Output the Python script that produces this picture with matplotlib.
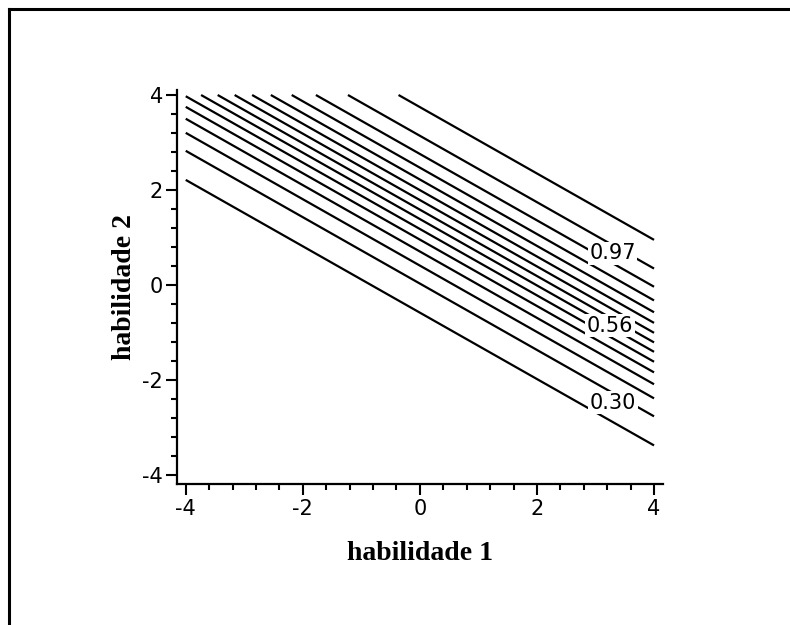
import numpy as np
import matplotlib.pyplot as plt
from matplotlib.lines import Line2D
from matplotlib.ticker import MultipleLocator

# compensatory 2D item: P = c + (1-c) / (1 + exp(-(a1*t1 + a2*t2 + d)))
a1 = 0.87
a2 = 1.245
d = -1.98
c = 0.25

# contour levels (15, evenly spaced like the original)
levels = [0.297, 0.344, 0.390, 0.437, 0.484, 0.531, 0.578, 0.624,
          0.671, 0.718, 0.765, 0.812, 0.858, 0.905, 0.952]

# labels written on the curves
label_text = ["0.97", "0.56", "0.30"]
label_pos = [(3.29, 0.67), (3.25, -0.86), (3.30, -2.48)]

ticks = [-4, -2, 0, 2, 4]

plt.rcParams["font.family"] = "DejaVu Sans"
plt.rcParams["axes.unicode_minus"] = False

t1 = np.linspace(-4, 4, 241)
t2 = np.linspace(-4, 4, 241)
T1, T2 = np.meshgrid(t1, t2)
P = c + (1 - c) / (1 + np.exp(-(a1 * T1 + a2 * T2 + d)))

fig = plt.figure(figsize=(7.9, 6.25), dpi=100)
ax = fig.add_axes([0.224, 0.2256, 0.615, 0.630])

ax.contour(T1, T2, P, levels=levels, colors="black", linewidths=1.6)

for txt, (x, y) in zip(label_text, label_pos):
    ax.text(x, y, txt, fontsize=15, ha="center", va="center", zorder=5,
            bbox=dict(facecolor="white", edgecolor="none", pad=1.0))

ax.set_xlim(-4.15, 4.15)
ax.set_ylim(-4.19, 4.1)
ax.set_xticks(ticks)
ax.set_yticks(ticks)
ax.xaxis.set_minor_locator(MultipleLocator(0.4))
ax.yaxis.set_minor_locator(MultipleLocator(0.4))
ax.spines["top"].set_visible(False)
ax.spines["right"].set_visible(False)
ax.spines["left"].set_linewidth(1.6)
ax.spines["bottom"].set_linewidth(1.6)
ax.tick_params(which="major", length=8, width=1.5, labelsize=15)
ax.tick_params(which="minor", length=4, width=1.5)
ax.tick_params(axis="x", which="major", pad=3)
ax.tick_params(axis="y", which="major", pad=2)

lab_font = dict(family="Liberation Serif", weight="bold", size=20)
ax.set_xlabel("habilidade 1", labelpad=16, **lab_font)
ax.set_ylabel("habilidade 2", labelpad=4, **lab_font)

# scanned page frame
fig.add_artist(Line2D([0.011, 0.011], [0.0, 0.985], transform=fig.transFigure,
                      color="black", linewidth=2.2))
fig.add_artist(Line2D([0.011, 1.0], [0.985, 0.985], transform=fig.transFigure,
                      color="black", linewidth=2.2))

fig.savefig("out.png", dpi=100)
